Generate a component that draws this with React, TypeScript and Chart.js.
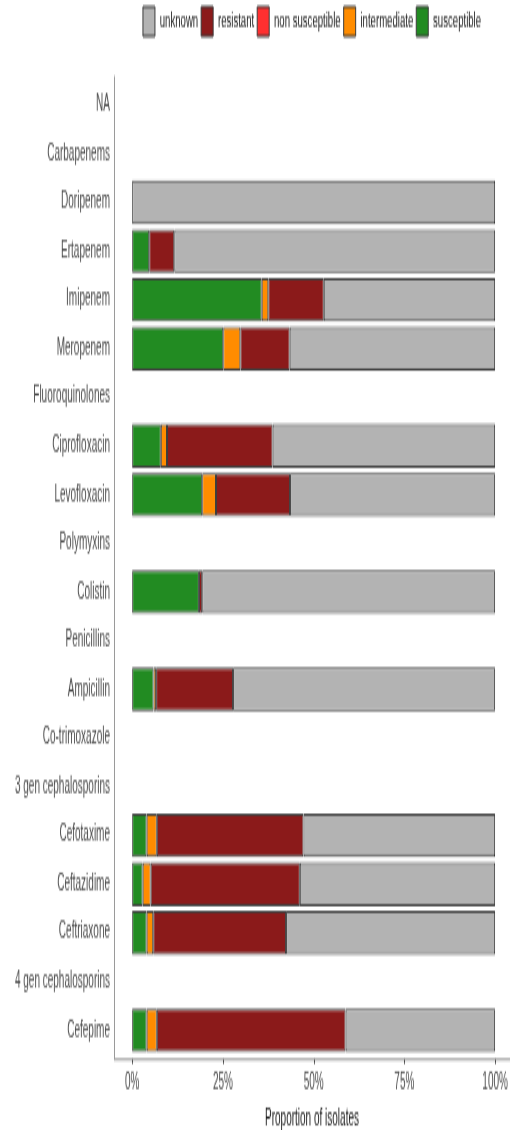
import React, { useEffect, useRef } from "react";
import { Chart, registerables } from "chart.js";

Chart.register(...registerables);

// Antimicrobial classes (header rows without bars) and agents, top to bottom
const categories = [
  "NA",
  "Carbapenems",
  "Doripenem",
  "Ertapenem",
  "Imipenem",
  "Meropenem",
  "Fluoroquinolones",
  "Ciprofloxacin",
  "Levofloxacin",
  "Polymyxins",
  "Colistin",
  "Penicillins",
  "Ampicillin",
  "Co-trimoxazole",
  "3 gen cephalosporins",
  "Cefotaxime",
  "Ceftazidime",
  "Ceftriaxone",
  "4 gen cephalosporins",
  "Cefepime",
];

// Proportion of isolates (%) per interpretation; null = class header row
const susceptible = [null, null, 0, 4.7, 35.7, 25.1, null, 7.9, 19.3, null, 18.4, null, 5.9, null, null, 4.0, 2.9, 4.0, null, 4.0];
const intermediate = [null, null, 0, 0, 1.8, 4.7, null, 1.7, 3.8, null, 0, null, 0.7, null, null, 2.8, 2.2, 1.8, null, 2.8];
const nonSusceptible = [null, null, 0, 0, 0, 0, null, 0, 0, null, 0, null, 0, null, null, 0, 0, 0, null, 0];
const resistant = [null, null, 0, 6.9, 15.3, 13.6, null, 29.1, 20.4, null, 0.9, null, 21.2, null, null, 40.4, 41.1, 36.6, null, 52.0];
const unknown = [null, null, 100, 88.4, 47.2, 56.6, null, 61.3, 56.5, null, 80.7, null, 72.2, null, null, 52.8, 53.8, 57.6, null, 41.2];

const xTicks = [0, 25, 50, 75, 100];

const FONT = "'Liberation Sans', Arial, Helvetica, sans-serif";

// Drawing surface is rendered at a reduced height and stretched by CSS
const CANVAS_W = 510;
const CANVAS_H = 500;
const DISPLAY_H = 1130;

// Axis lines that extend 0.6 category beyond the first/last rows, plus x tick marks
const axisLines = {
  id: "axisLines",
  afterDatasetsDraw(chart: any) {
    const { ctx, chartArea, scales } = chart;
    const xs = scales.x;
    const ys = scales.y;
    const band = ys.getPixelForValue(1) - ys.getPixelForValue(0);
    const top = ys.getPixelForValue(0) - 0.6 * band;
    const bottom = ys.getPixelForValue(categories.length - 1) + 0.6 * band;
    ctx.save();
    ctx.strokeStyle = "#9a9a9a";
    ctx.lineWidth = 1;
    ctx.beginPath();
    ctx.moveTo(chartArea.left + 0.5, top);
    ctx.lineTo(chartArea.left + 0.5, bottom);
    ctx.moveTo(chartArea.left, bottom);
    ctx.lineTo(chartArea.right, bottom);
    ctx.stroke();
    ctx.strokeStyle = "#444444";
    ctx.beginPath();
    for (const v of xTicks) {
      const px = Math.round(xs.getPixelForValue(v)) + 0.5;
      ctx.moveTo(px, bottom);
      ctx.lineTo(px, bottom + 2);
    }
    ctx.stroke();
    ctx.restore();
  },
};

export default function App() {
  const canvasRef = useRef<HTMLCanvasElement | null>(null);

  useEffect(() => {
    const canvas = canvasRef.current;
    if (!canvas) return;
    const border = "#3d3d3d";
    const bw = 1;
    const mk = (label: string, data: (number | null)[], color: string) => ({
      label,
      data,
      backgroundColor: color,
      borderColor: border,
      borderWidth: bw,
      borderSkipped: false,
      barPercentage: 0.9,
      categoryPercentage: 1,
    });

    const chart = new Chart(canvas, {
      type: "bar",
      data: {
        labels: categories,
        datasets: [
          mk("susceptible", susceptible, "#228b22"),
          mk("intermediate", intermediate, "#ff8c00"),
          mk("non susceptible", nonSusceptible, "#ff3030"),
          mk("resistant", resistant, "#8b1a1a"),
          mk("unknown", unknown, "#b3b3b3"),
        ],
      },
      options: {
        indexAxis: "y",
        animation: false,
        responsive: false,
        devicePixelRatio: 1,
        layout: { padding: 0 },
        plugins: {
          tooltip: { enabled: false },
          legend: {
            position: "top",
            align: "center",
            fullSize: false,
            reverse: true,
            weight: 3000,
            labels: {
              boxWidth: 12,
              boxHeight: 13,
              padding: 3,
              color: "#1a1a1a",
              font: { family: FONT, size: 9.6 },
            },
          },
          // spacer between the legend and the panel
          title: {
            display: true,
            text: "",
            padding: 0,
            font: { family: FONT, size: 9.7, lineHeight: 1 },
          },
        },
        scales: {
          x: {
            type: "linear",
            stacked: true,
            min: -5,
            max: 104.1,
            grid: { display: false, drawTicks: false },
            border: { display: false },
            afterBuildTicks: (scale: any) => {
              scale.ticks = xTicks.map((v) => ({ value: v }));
            },
            afterFit: (scale: any) => {
              scale.height = 33.4;
              scale.paddingLeft = 0;
              scale.paddingRight = 0;
            },
            ticks: {
              padding: 7,
              color: "#4d4d4d",
              font: { family: FONT, size: 10 },
              callback: (v: any) => `${v}%`,
            },
            title: {
              display: true,
              text: "Proportion of isolates",
              color: "#1a1a1a",
              padding: 0,
              font: { family: FONT, size: 10, lineHeight: 1 },
            },
          },
          y: {
            type: "category",
            stacked: true,
            offset: true,
            grid: { display: false, drawTicks: false },
            border: { display: false },
            afterFit: (scale: any) => {
              scale.width = 114;
            },
            ticks: {
              autoSkip: false,
              padding: 4,
              color: "#4d4d4d",
              font: { family: FONT, size: 10 },
            },
          },
        },
      },
      plugins: [axisLines],
    } as any);

    return () => chart.destroy();
  }, []);

  return (
    <div style={{ position: "absolute", left: 0, top: 0, width: CANVAS_W, height: DISPLAY_H, background: "#ffffff" }}>
      <canvas
        ref={canvasRef}
        width={CANVAS_W}
        height={CANVAS_H}
        style={{ width: `${CANVAS_W}px`, height: `${DISPLAY_H}px`, display: "block" }}
      />
    </div>
  );
}
